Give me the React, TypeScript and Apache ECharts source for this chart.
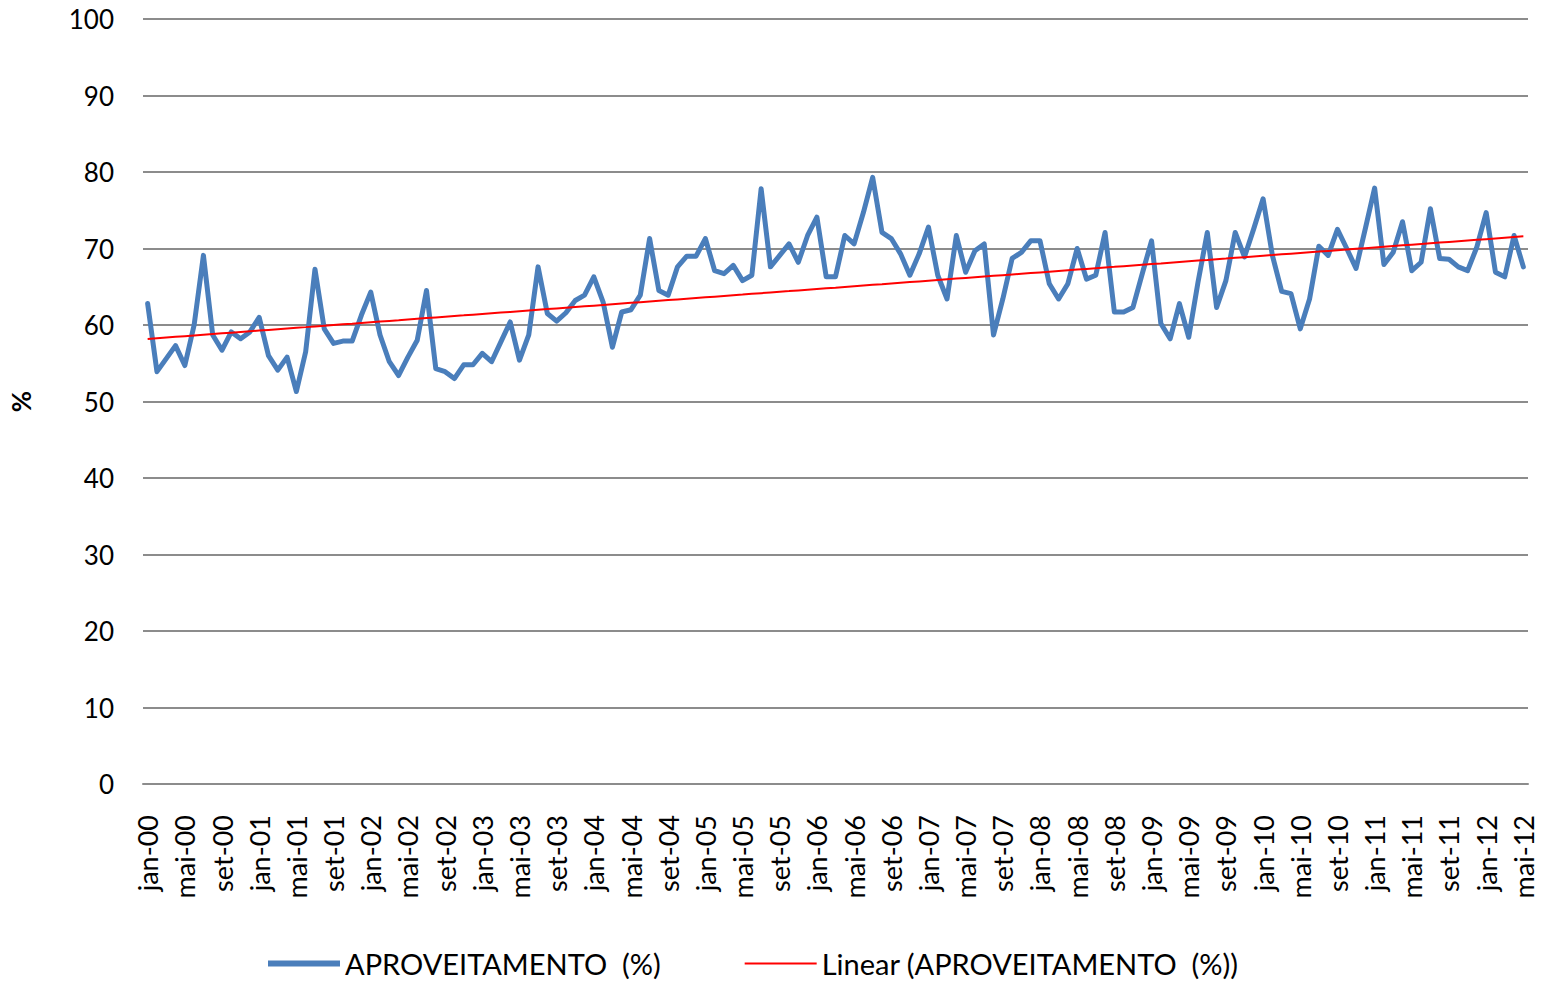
import React, { useEffect, useRef } from "react";
import * as echarts from "echarts";

const monthNames = ["jan", "fev", "mar", "abr", "mai", "jun", "jul", "ago", "set", "out", "nov", "dez"];
const startYear = 2000;
const monthCount = 149;

const aproveitamento = [
  62.8, 53.9, 55.6, 57.3, 54.7, 60.0, 69.1, 58.7, 56.7, 59.1, 58.2, 59.1,
  61.0, 56.0, 54.1, 55.8, 51.3, 56.5, 67.3, 59.5, 57.6, 57.9, 57.9, 61.3,
  64.3, 58.7, 55.2, 53.4, 55.8, 58.0, 64.5, 54.3, 53.9, 53.0, 54.8, 54.8,
  56.3, 55.2, 57.8, 60.4, 55.4, 58.7, 67.6, 61.5, 60.5, 61.6, 63.2, 63.9,
  66.3, 63.0, 57.1, 61.7, 62.0, 63.9, 71.3, 64.5, 63.9, 67.6, 69.0, 69.0,
  71.3, 67.1, 66.7, 67.8, 65.8, 66.5, 77.8, 67.6, 69.1, 70.6, 68.2, 71.7,
  74.1, 66.3, 66.3, 71.7, 70.6, 74.7, 79.3, 72.1, 71.3, 69.3, 66.5, 69.3,
  72.8, 66.5, 63.4, 71.7, 66.9, 69.7, 70.6, 58.7, 63.4, 68.7, 69.5, 71.0,
  71.0, 65.4, 63.4, 65.4, 70.0, 66.0, 66.5, 72.1, 61.7, 61.7, 62.3, 66.7,
  71.0, 60.2, 58.2, 62.8, 58.4, 65.6, 72.1, 62.3, 65.8, 72.1, 68.9, 72.6,
  76.5, 69.1, 64.4, 64.1, 59.5, 63.4, 70.3, 69.1, 72.5, 70.0, 67.4, 72.6,
  77.9, 67.9, 69.5, 73.5, 67.1, 68.2, 75.2, 68.7, 68.6, 67.6, 67.1, 70.2,
  74.7, 66.9, 66.3, 71.7, 67.6,
];

const yTicks = [0, 10, 20, 30, 40, 50, 60, 70, 80, 90, 100];
const seriesName = "APROVEITAMENTO  (%)";
const trendName = "Linear (APROVEITAMENTO  (%))";

const categories: string[] = [];
for (let i = 0; i < monthCount; i++) {
  const y = startYear + Math.floor(i / 12);
  categories.push(monthNames[i % 12] + "-" + String(y % 100).padStart(2, "0"));
}

// Least-squares linear trend of the series (as Excel's "Linear" trendline)
function linearTrend(vals: number[]): number[] {
  const n = vals.length;
  let sx = 0, sy = 0, sxx = 0, sxy = 0;
  vals.forEach((v, i) => {
    const x = i + 1;
    sx += x; sy += v; sxx += x * x; sxy += x * v;
  });
  const b = (n * sxy - sx * sy) / (n * sxx - sx * sx);
  const a = (sy - b * sx) / n;
  return vals.map((_, i) => +(a + b * (i + 1)).toFixed(3));
}

export default function App() {
  const ref = useRef<HTMLDivElement>(null);
  useEffect(() => {
    if (!ref.current) return;
    const chart = echarts.init(ref.current, null, { renderer: "svg" });
    const trend = linearTrend(aproveitamento);
    chart.setOption({
      animation: false,
      backgroundColor: "#ffffff",
      grid: { left: 143, right: 15, top: 19, bottom: 199, containLabel: false },
      legend: {
        bottom: 0,
        left: 263,
        itemWidth: 72,
        itemHeight: 14,
        itemGap: 84,
        symbolKeepAspect: true,
        textStyle: { fontFamily: "Lato, sans-serif", fontSize: 29, color: "#000", padding: [0, 0, 0, 0] },
        data: [
          { name: seriesName, icon: "path://M0,0h72v6h-72z", itemStyle: { color: "#4a7ebb" } },
          { name: trendName, icon: "path://M0,0h72v2h-72z", itemStyle: { color: "#ff0000" } },
        ],
      },
      xAxis: {
        type: "category",
        data: categories,
        boundaryGap: true,
        axisLine: { show: true, lineStyle: { color: "#8c8c8c", width: 2 } },
        axisTick: { show: false },
        axisLabel: {
          interval: 3,
          rotate: 90,
          margin: 31,
          fontSize: 27,
          color: "#000",
          fontFamily: "Lato, sans-serif",
        },
      },
      yAxis: {
        type: "value",
        min: 0,
        max: 100,
        interval: 10,
        name: "%",
        nameLocation: "middle",
        nameGap: 109,
        nameRotate: 90,
        nameTextStyle: { fontSize: 26, fontWeight: "bold", color: "#000", fontFamily: "Lato, sans-serif" },
        axisLine: { show: false },
        axisTick: { show: false },
        splitLine: { show: true, lineStyle: { color: "#8c8c8c", width: 2 } },
        axisLabel: {
          margin: 29,
          fontSize: 26,
          color: "#000",
          fontFamily: "Lato, sans-serif",
          formatter: (v: number) => (yTicks.includes(v) ? String(v) : ""),
        },
      },
      series: [
        {
          name: seriesName,
          type: "line",
          data: aproveitamento,
          symbol: "none",
          lineStyle: { color: "#4a7ebb", width: 5, join: "round", cap: "round" },
          itemStyle: { color: "#4a7ebb" },
          z: 2,
        },
        {
          name: trendName,
          type: "line",
          data: trend,
          symbol: "none",
          lineStyle: { color: "#ff0000", width: 2 },
          itemStyle: { color: "#ff0000" },
          z: 3,
        },
      ],
    });
    return () => chart.dispose();
  }, []);
  return (
    <div
      ref={ref}
      style={{ position: "absolute", left: 0, top: 0, width: 1543, height: 983 }}
    />
  );
}
